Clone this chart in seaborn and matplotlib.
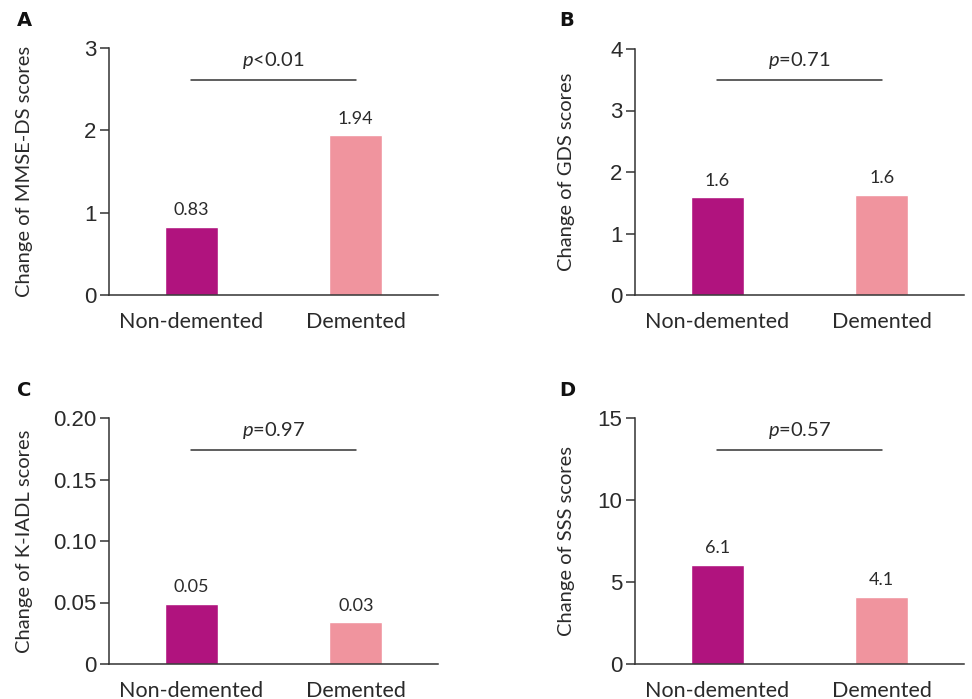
import matplotlib
matplotlib.use("Agg")
import matplotlib.pyplot as plt
import seaborn as sns
import pandas as pd

sns.set_theme(style="white")
plt.rcParams['font.family'] = ['Lato', 'DejaVu Sans']
plt.rcParams['mathtext.fontset'] = 'custom'
plt.rcParams['mathtext.it'] = 'Lato:italic'
plt.rcParams['mathtext.rm'] = 'Lato'

categories = ["Non-demented", "Demented"]
colors = ["#B0137E", "#F0949E"]

panel_letters = ["A", "B", "C", "D"]
ylabels = ["Change of MMSE-DS scores", "Change of GDS scores",
           "Change of K-IADL scores", "Change of SSS scores"]
values_A = [0.83, 1.94]
values_B = [1.59, 1.63]
values_C = [0.049, 0.034]
values_D = [6.05, 4.1]
bar_labels_A = ["0.83", "1.94"]
bar_labels_B = ["1.6", "1.6"]
bar_labels_C = ["0.05", "0.03"]
bar_labels_D = ["6.1", "4.1"]
p_texts = [r"$p$<0.01", r"$p$=0.71", r"$p$=0.97", r"$p$=0.57"]
y_max = [3, 4, 0.20, 15]
y_ticks = [[0, 1, 2, 3], [0, 1, 2, 3, 4],
           [0, 0.05, 0.10, 0.15, 0.20], [0, 5, 10, 15]]
y_ticklabels = [["0", "1", "2", "3"], ["0", "1", "2", "3", "4"],
                ["0", "0.05", "0.10", "0.15", "0.20"], ["0", "5", "10", "15"]]
sig_line_y = [2.61, 3.50, 0.174, 13.05]

all_values = [values_A, values_B, values_C, values_D]
all_bar_labels = [bar_labels_A, bar_labels_B, bar_labels_C, bar_labels_D]

W, H = 972, 699
fig = plt.figure(figsize=(W / 100, H / 100), dpi=100)

# axes rectangles in pixels: left, top(ymax), bottom(y=0)
rects = [(109, 48, 295), (635, 49, 295), (109, 418, 664), (635, 418, 664)]
letter_pos = [(24, 21), (567, 20), (24, 391), (567, 391)]
ylabel_x = [-0.231, -0.182, -0.231, -0.182]
axis_color = "#333333"
text_color = "#2a2a2a"

for i in range(4):
    l, t, b = rects[i]
    ax = fig.add_axes([l / W, (H - b) / H, 329 / W, (b - t) / H])
    df = pd.DataFrame({"group": categories, "value": all_values[i]})
    sns.barplot(data=df, x="group", y="value", hue="group", order=categories,
                hue_order=categories, palette=colors, width=0.32,
                legend=False, ax=ax, saturation=1)
    ax.set_xlim(-0.5, 1.5)
    ax.set_ylim(0, y_max[i])
    ax.set_yticks(y_ticks[i])
    ax.set_yticklabels(y_ticklabels[i], fontfamily=['Liberation Sans'], fontsize=16,
                       color=text_color)
    ax.set_xticks([0, 1])
    ax.set_xticklabels(categories, fontsize=15.5, color=text_color)
    ax.set_xticks([-0.5, 0.5, 1.5], minor=True)
    ax.tick_params(axis="x", which="major", length=0, pad=12)
    ax.tick_params(axis="x", which="minor", length=6, width=1.1,
                   color=axis_color, direction="out")
    ax.tick_params(axis="y", which="major", length=6.5, width=1.1,
                   color=axis_color, direction="out", pad=2.5, left=True)
    for s in ["top", "right"]:
        ax.spines[s].set_visible(False)
    for s in ["left", "bottom"]:
        ax.spines[s].set_color(axis_color)
        ax.spines[s].set_linewidth(1.1)
    ax.set_xlabel("")
    ax.set_ylabel(ylabels[i], fontsize=14.5, color=text_color)
    ax.yaxis.set_label_coords(ylabel_x[i], 0.5)

    for j, v in enumerate(all_values[i]):
        ax.annotate(all_bar_labels[i][j], xy=(j, v), xytext=(0, 12),
                    textcoords="offset points", ha="center", va="center",
                    fontsize=13, color=text_color)
    ax.plot([0, 1], [sig_line_y[i], sig_line_y[i]], color=axis_color,
            linewidth=1.1, clip_on=False)
    ax.annotate(p_texts[i], xy=(0.5, sig_line_y[i]), xytext=(0, 14),
                textcoords="offset points", ha="center", va="center",
                fontsize=14.5, color=text_color, annotation_clip=False)

    lx, ly = letter_pos[i]
    fig.text(lx / W, 1 - ly / H, panel_letters[i], ha="center", va="center",
             fontsize=14, fontweight="heavy", family=['DejaVu Sans'],
             color="#111111")

fig.savefig("out.png", dpi=100)
